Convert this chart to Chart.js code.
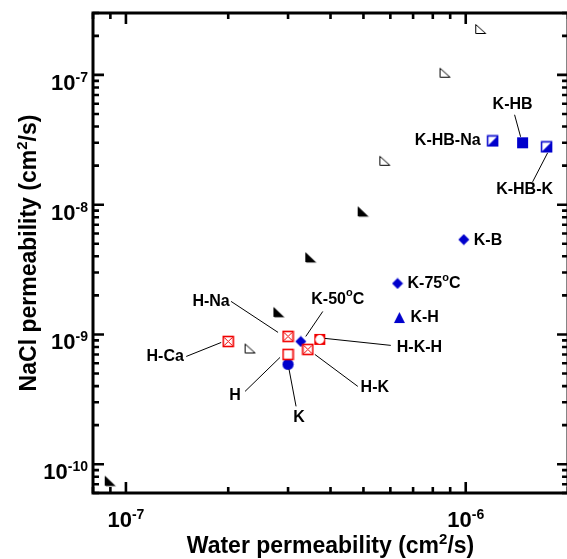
<!DOCTYPE html>
<html><head><meta charset="utf-8">
<script src="https://cdn.jsdelivr.net/npm/chart.js@4.4.0/dist/chart.umd.min.js"></script>
<style>html,body{margin:0;padding:0;background:#fff;overflow:hidden}#c{display:block}</style>
</head><body>
<canvas id="c" width="567" height="559"></canvas>
<script>
// ---------------- data ----------------
const sampleNames = ['H','H-Na','H-K','H-K-H','H-Ca','K','K-50°C','K-75°C','K-H','K-B','K-HB','K-HB-Na','K-HB-K'];
const sampleWater = [3.00e-7,3.00e-7,3.43e-7,3.72e-7,2.00e-7,3.00e-7,3.27e-7,6.30e-7,6.38e-7,9.87e-7,1.47e-6,1.20e-6,1.73e-6];
const sampleNaCl  = [7.02e-10,9.66e-10,7.67e-10,9.16e-10,8.83e-10,5.88e-10,8.83e-10,2.47e-9,1.35e-9,5.38e-9,3.00e-8,3.10e-8,2.79e-8];
const openTriWater = [2.32e-7,5.78e-7,8.69e-7,1.107e-6];
const openTriNaCl  = [7.80e-10,2.18e-8,1.04e-7,2.26e-7];
const filledTriWater = [8.99e-8,2.82e-7,3.50e-7,4.99e-7];
const filledTriNaCl  = [7.40e-11,1.48e-9,3.91e-9,8.83e-9];
const xMajorTicks = [1e-7,1e-6];
const xTickExps = ['-7','-6'];
const yMajorTicks = [1e-10,1e-9,1e-8,1e-7];
const yTickExps = ['-10','-9','-8','-7'];
const xTitle = ['Water permeability (cm','2','/s)'];
const yTitle = ['NaCl permeability (cm','2','/s)'];
const X_MIN = 8e-8, X_MAX = 1.92e-6, X_FRAME = 2e-6;
const Y_MIN = 6e-11, Y_MAX = 3e-7;

// ---------------- styles ----------------
const BLUE = '#0000cc', RED = '#f00000';
const FONT = '"Liberation Sans", Arial, sans-serif';
function mk(w,h,draw){const c=document.createElement('canvas');c.width=w;c.height=h;draw(c.getContext('2d'));return c;}
const markers = {
  redXSq: mk(13,13,g=>{g.fillStyle='#fff';g.fillRect(1,1,11,11);g.strokeStyle=RED;g.lineWidth=1.6;g.strokeRect(1.5,1.5,10,10);g.lineWidth=1;g.beginPath();g.moveTo(2.5,2.5);g.lineTo(10.5,10.5);g.moveTo(10.5,2.5);g.lineTo(2.5,10.5);g.stroke();}),
  redOpenSq: mk(13,13,g=>{g.fillStyle='#fff';g.fillRect(1,1,11,11);g.strokeStyle=RED;g.lineWidth=1.6;g.strokeRect(1.5,1.5,10,10);}),
  redCircSq: mk(13,13,g=>{g.fillStyle=RED;g.fillRect(1,1,11,11);g.fillStyle='#fff';g.beginPath();g.arc(6.5,6.5,4.4,0,Math.PI*2);g.fill();}),
  blueCircle: mk(13,13,g=>{g.fillStyle=BLUE;g.beginPath();g.arc(6.5,6.5,5.6,0,Math.PI*2);g.fill();}),
  blueDiamond: mk(12,12,g=>{g.fillStyle=BLUE;g.beginPath();g.moveTo(6,0.5);g.lineTo(11.5,6);g.lineTo(6,11.5);g.lineTo(0.5,6);g.closePath();g.fill();}),
  blueTri: mk(13,13,g=>{g.fillStyle=BLUE;g.beginPath();g.moveTo(6.5,1);g.lineTo(12,12);g.lineTo(1,12);g.closePath();g.fill();}),
  blueSq: mk(13,13,g=>{g.fillStyle=BLUE;g.fillRect(1,1,11,11);}),
  blueHalfSq: mk(13,13,g=>{g.fillStyle='#fff';g.fillRect(1,1,11,11);g.fillStyle=BLUE;g.beginPath();g.moveTo(1.5,11.5);g.lineTo(11.5,1.5);g.lineTo(11.5,11.5);g.closePath();g.fill();g.strokeStyle=BLUE;g.lineWidth=1.5;g.strokeRect(1.5,1.5,10,10);}),
  openTri: mk(13,12,g=>{g.fillStyle='#fff';g.strokeStyle='#000';g.lineWidth=1;g.beginPath();g.moveTo(1.5,1.5);g.lineTo(1.5,10.5);g.lineTo(11.5,10.5);g.closePath();g.fill();g.stroke();}),
  filledTri: mk(13,13,g=>{g.fillStyle='#999';g.beginPath();g.moveTo(2,2);g.lineTo(2,12);g.lineTo(12.5,12);g.closePath();g.fill();g.fillStyle='#000';g.beginPath();g.moveTo(1,1);g.lineTo(1,11);g.lineTo(11.5,11);g.closePath();g.fill();})
};
const sampleMarker = {'H':'redOpenSq','H-Na':'redXSq','H-K':'redXSq','H-K-H':'redCircSq','H-Ca':'redXSq','K':'blueCircle','K-50°C':'blueDiamond','K-75°C':'blueDiamond','K-H':'blueTri','K-B':'blueDiamond','K-HB':'blueSq','K-HB-Na':'blueHalfSq','K-HB-K':'blueHalfSq'};
// label placement: text anchor offset (px) from marker, alignment, optional leader line offsets
const labelPlace = {
  'K-HB-Na':{dx:-12,dy:0,al:'right'},
  'K-HB':{dx:-10,dy:-38,al:'center',ln:[-8,-28,-2,-6]},
  'K-HB-K':{dx:-22,dy:43,al:'center',ln:[1,6,-14,35]},
  'K-B':{dx:10,dy:1,al:'left'},
  'K-75°C':{dx:10,dy:0,al:'left'},
  'K-H':{dx:11,dy:0,al:'left'},
  'K-50°C':{dx:37,dy:-42,al:'center',ln:[22,-30,5,-5]},
  'H-Na':{dx:-77,dy:-35,al:'center',ln:[-57,-35,-10,-4]},
  'H-Ca':{dx:-63,dy:15,al:'center',ln:[-42,15,-7,1]},
  'H':{dx:-53,dy:41,al:'center',ln:[-43,37,-8,3]},
  'K':{dx:11,dy:53,al:'center',ln:[8,42,1,5]},
  'H-K':{dx:67,dy:38,al:'center',ln:[50,37,7,5]},
  'H-K-H':{dx:77,dy:8,al:'left',ln:[5,-1,71,6]}
};

// ---------------- helpers ----------------
function richWidth(ctx,segs,size,supSize){let w=0;segs.forEach(s=>{ctx.font='bold '+(s.sup?supSize:size)+'px '+FONT;w+=ctx.measureText(s.t).width;});return w;}
function drawRich(ctx,segs,x,y,align,size,supSize,rise){
  const w=richWidth(ctx,segs,size,supSize);
  let cx = align==='center'? x-w/2 : align==='right'? x-w : x;
  ctx.textAlign='left';
  segs.forEach(s=>{ctx.font='bold '+(s.sup?supSize:size)+'px '+FONT;ctx.fillText(s.t,cx,s.sup?y-rise:y);cx+=ctx.measureText(s.t).width;});
}
function splitDeg(name){const p=name.split('°');if(p.length===1)return[{t:name}];return[{t:p[0]},{t:'o',sup:true},{t:p[1]}];}

// ---------------- datasets ----------------
const datasets = [];
datasets.push({label:'open',data:openTriWater.map((v,i)=>({x:v,y:openTriNaCl[i]})),pointStyle:markers.openTri,clip:false});
datasets.push({label:'filled',data:filledTriWater.map((v,i)=>({x:v,y:filledTriNaCl[i]})),pointStyle:markers.filledTri,clip:false});
sampleNames.forEach((n,i)=>datasets.push({label:n,data:[{x:sampleWater[i],y:sampleNaCl[i]}],pointStyle:markers[sampleMarker[n]],clip:false}));

const axesPlugin = {id:'axes',beforeDatasetsDraw(chart){
  const {ctx,chartArea:a,scales:{x,y}} = chart;
  const L=a.left, T=a.top, B=a.bottom, R=x.getPixelForValue(X_FRAME);
  ctx.save();
  ctx.strokeStyle='#000';ctx.lineCap='butt';
  ctx.lineWidth=2.6;
  for(let k=-8;k<=-5;k++)for(let m=1;m<=9;m++){const v=m*Math.pow(10,k);if(v<X_MIN*0.999||v>X_FRAME*1.001)continue;const p=x.getPixelForValue(v);const len=m===1?11:6;
    ctx.beginPath();ctx.moveTo(p,B);ctx.lineTo(p,B-len);ctx.moveTo(p,T);ctx.lineTo(p,T+len);ctx.stroke();}
  for(let k=-11;k<=-7;k++)for(let m=1;m<=9;m++){const v=m*Math.pow(10,k);if(v<Y_MIN*0.999||v>Y_MAX*1.001)continue;const p=y.getPixelForValue(v);const len=m===1?11:6;
    ctx.beginPath();ctx.moveTo(L,p);ctx.lineTo(L+len,p);ctx.moveTo(R,p);ctx.lineTo(R-len,p);ctx.stroke();}
  ctx.lineWidth=3;
  ctx.beginPath();ctx.moveTo(L,T);ctx.lineTo(R,T);ctx.lineTo(R,B);ctx.lineTo(L,B);ctx.closePath();ctx.stroke();
  ctx.fillStyle='#000';ctx.textBaseline='alphabetic';
  xMajorTicks.forEach((v,i)=>{drawRich(ctx,[{t:'10'},{t:xTickExps[i],sup:true}],x.getPixelForValue(v),B+34,'center',22,14,8);});
  yMajorTicks.forEach((v,i)=>{drawRich(ctx,[{t:'10'},{t:yTickExps[i],sup:true}],88,y.getPixelForValue(v)+15,'right',22,14,8);});
  drawRich(ctx,[{t:xTitle[0]},{t:xTitle[1],sup:true},{t:xTitle[2]}],(L+R)/2,553,'center',23,15,9);
  ctx.translate(36,(T+B)/2);ctx.rotate(-Math.PI/2);
  drawRich(ctx,[{t:yTitle[0]},{t:yTitle[1],sup:true},{t:yTitle[2]}],0,0,'center',23,15,9);
  ctx.restore();
}};

const labelPlugin = {id:'labels',afterDatasetsDraw(chart){
  const {ctx,scales:{x,y}} = chart;
  ctx.save();ctx.fillStyle='#000';ctx.strokeStyle='#000';ctx.lineWidth=1;ctx.textBaseline='middle';
  sampleNames.forEach((n,i)=>{
    const px=x.getPixelForValue(sampleWater[i]), py=y.getPixelForValue(sampleNaCl[i]);
    const lp=labelPlace[n];
    if(lp.ln){ctx.beginPath();ctx.moveTo(px+lp.ln[0],py+lp.ln[1]);ctx.lineTo(px+lp.ln[2],py+lp.ln[3]);ctx.stroke();}
    drawRich(ctx,splitDeg(n),px+lp.dx,py+lp.dy,lp.al,16,11,6);
  });
  ctx.restore();
}};

new Chart(document.getElementById('c'),{
  type:'scatter',
  data:{datasets},
  options:{responsive:false,animation:false,devicePixelRatio:1,
    layout:{padding:{left:93,top:13,right:0,bottom:66}},
    plugins:{legend:{display:false},tooltip:{enabled:false}},
    scales:{x:{type:'logarithmic',min:X_MIN,max:X_MAX,display:false},
            y:{type:'logarithmic',min:Y_MIN,max:Y_MAX,display:false}}},
  plugins:[axesPlugin,labelPlugin]
});
</script>
</body></html>
